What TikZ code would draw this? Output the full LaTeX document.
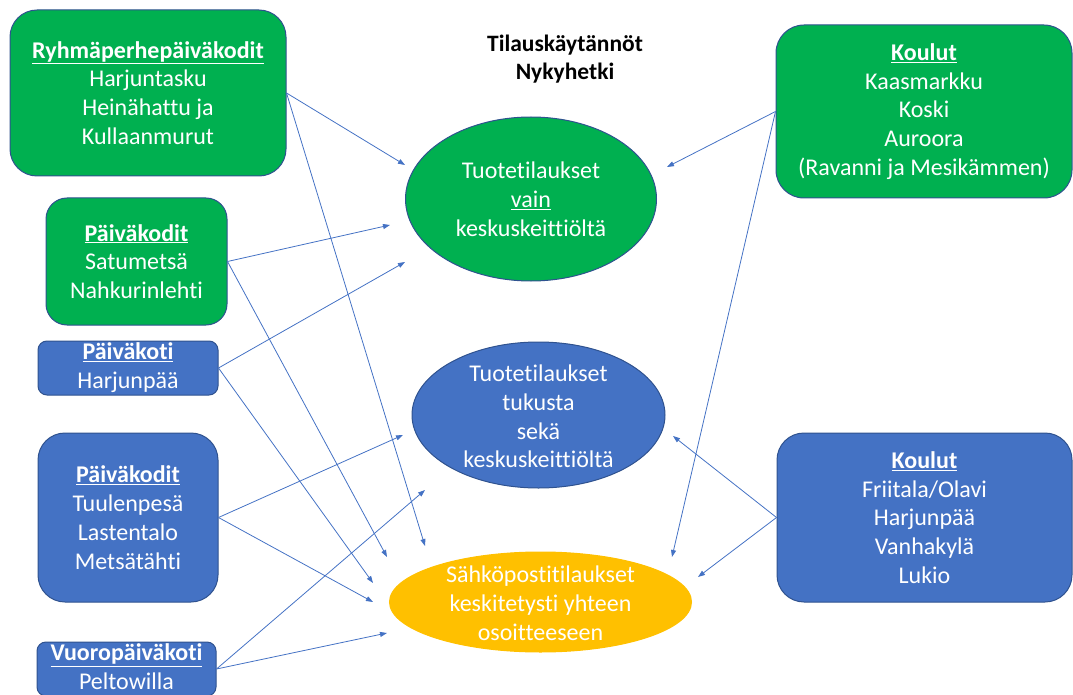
\documentclass[tikz,border=0pt]{standalone}
\usepackage{fontspec}
\setmainfont{Carlito}[Ligatures={NoCommon}]
\usetikzlibrary{shapes.geometric,arrows.meta}
\definecolor{pgreen}{HTML}{00B050}
\definecolor{pblue}{HTML}{4472C4}
\definecolor{pyellow}{HTML}{FFC000}
\definecolor{pborder}{HTML}{2F528F}
\definecolor{pline}{HTML}{4472C4}
\newcommand{\hd}[1]{\underline{\textbf{#1}}}
\tikzset{
  txt/.style={text=white, align=center, font=\fontsize{24}{28.8}\selectfont},
  box/.style={txt, draw=pborder, line width=1pt, inner sep=0pt},
  greenbox/.style={box, fill=pgreen},
  bluebox/.style={box, fill=pblue},
  oval/.style={ellipse, draw=pborder, line width=1pt, inner sep=0pt},
  ovaltext/.style={txt, inner sep=0pt},
  conn/.style={draw=pline, line width=0.8pt, -{Triangle[length=7pt,width=5pt]}},
  title/.style={align=center, font=\fontsize{23.5}{28.5}\selectfont\bfseries, text=black}
}
\begin{document}
\begin{tikzpicture}[x=1pt,y=-1pt]
\useasboundingbox (0,0) rectangle (1073,695);
\clip (0,0) rectangle (1073,695);

% title
\node[title] (title) at (565,59) {Tilauskäytännöt\\Nykyhetki};

% left boxes
\node[greenbox, minimum width=276pt, minimum height=166pt, rounded corners=27pt] (ryh) at (148,93)
  {\hd{Ryhmäperhepäiväkodit}\\Harjuntasku\\Heinähattu ja\\Kullaanmurut};
\node[greenbox, minimum width=181pt, minimum height=127pt, rounded corners=21pt] (pkg) at (136.5,261.5)
  {\hd{Päiväkodit}\\Satumetsä\\Nahkurinlehti};
\node[bluebox, minimum width=180pt, minimum height=54pt, rounded corners=9pt] (pk1) at (128,368)
  {\hd{Päiväkoti}\\Harjunpää};
\node[bluebox, minimum width=180pt, minimum height=169pt, rounded corners=27pt] (pkb) at (128,517.5)
  {\hd{Päiväkodit}\\Tuulenpesä\\Lastentalo\\Metsätähti};
\node[bluebox, minimum width=179pt, minimum height=54pt, rounded corners=9pt] (vuoro) at (126.5,669) {};
\node[ovaltext] (vuorotext) at (126.5,667) {\hd{Vuoropäiväkoti}\\Peltowilla};

% right boxes
\node[greenbox, minimum width=296pt, minimum height=173pt, rounded corners=28pt] (kg) at (924,111.5)
  {\hd{Koulut}\\Kaasmarkku\\Koski\\Auroora\\(Ravanni ja Mesikämmen)};
\node[bluebox, minimum width=295pt, minimum height=169pt, rounded corners=27pt] (kb) at (924.5,517.5)
  {\hd{Koulut}\\Friitala/Olavi\\Harjunpää\\Vanhakylä\\Lukio};

% ellipses
\node[oval, fill=pgreen, minimum width=251pt, minimum height=164pt] (eg) at (531,199) {};
\node[ovaltext] at (eg) {Tuotetilaukset\\\underline{vain}\\keskuskeittiöltä};
\node[oval, fill=pblue, minimum width=253pt, minimum height=146pt] (eb) at (538.5,415) {};
\node[ovaltext] at ([yshift=-1.5pt]eb.center) {Tuotetilaukset\\tukusta\\sekä\\keskuskeittiöltä};
\node[oval, draw=pyellow, fill=pyellow, minimum width=302pt, minimum height=100pt] (ey) at (540.5,602) {};
\node[ovaltext] at ([yshift=-1.5pt]ey.center) {Sähköpostitilaukset\\keskitetysti yhteen\\osoitteeseen};

% arrow tips (free ends near the ellipses)
\coordinate (g1) at (405,165);
\coordinate (g2) at (390,225);
\coordinate (g3) at (405,262);
\coordinate (g4) at (667,167);
\coordinate (b1) at (403,435);
\coordinate (b2) at (425,490);
\coordinate (b3) at (673,436);
\coordinate (y1) at (425,546);
\coordinate (y2) at (387,557);
\coordinate (y3) at (373,583);
\coordinate (y4) at (373,602);
\coordinate (y5) at (387,633);
\coordinate (y6) at (672,557);
\coordinate (y7) at (698,577);

% connectors
\draw[conn] (ryh.east) -- (g1);
\draw[conn] (ryh.east) -- (y1);
\draw[conn] (pkg.east) -- (g2);
\draw[conn] (pkg.east) -- (y2);
\draw[conn] (pk1.east) -- (g3);
\draw[conn] (pk1.east) -- (y3);
\draw[conn] (pkb.east) -- (b1);
\draw[conn] (pkb.east) -- (y4);
\draw[conn] (vuoro.east) -- (b2);
\draw[conn] (vuoro.east) -- (y5);
\draw[conn] (kg.west) -- (g4);
\draw[conn] (kg.west) -- (y6);
\draw[conn] (kb.west) -- (b3);
\draw[conn] (kb.west) -- (y7);
\end{tikzpicture}
\end{document}
